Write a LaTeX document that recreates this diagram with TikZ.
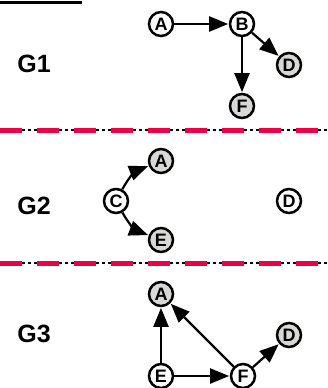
\documentclass[tikz,border=0pt]{standalone}
\usepackage{fontspec}
\setmainfont{Liberation Sans}
\usetikzlibrary{arrows.meta}
\definecolor{nodegray}{RGB}{216,216,212}
\definecolor{sepred}{RGB}{236,0,70}
\tikzset{
  vtx/.style={circle, draw=black, line width=2.5pt, minimum size=24pt, inner sep=0pt,
              font=\bfseries\fontsize{18}{18}\selectfont, fill=white},
  shaded/.style={vtx, fill=nodegray},
  edge/.style={line width=2.2pt, -{Triangle[length=19pt,width=15pt]}, shorten >=0.6pt},
  glabel/.style={font=\bfseries\fontsize{25}{25}\selectfont, inner sep=0pt},
  sepblack/.style={line width=1.6pt, black, dash pattern=on 28pt off 3pt on 3pt off 3pt, dash phase=0pt},
  sepredline/.style={line width=5pt, sepred, dash pattern=on 22pt off 15pt, dash phase=-3pt}
}
\begin{document}
\begin{tikzpicture}[x=1pt,y=-1pt]
\useasboundingbox (0,0) rectangle (327,388);
\fill[white] (0,0) rectangle (327,388);

% heading underline at the top edge
\coordinate (h1) at (0,2.5);
\coordinate (h2) at (82,2.5);
\draw[line width=2.4pt] (h1) -- (h2);

% section separators
\foreach \yy/\nm in {130/s1, 263/s2} {
  \coordinate (\nm a) at (-3,\yy);
  \coordinate (\nm b) at (330,\yy);
  \draw[sepblack] (\nm a) -- (\nm b);
  \draw[sepredline] (\nm a) -- (\nm b);
}

% ---- G1 ----
\node[glabel] (g1) at (34,64) {G1};
\node[vtx]    (a1) at (161,24) {A};
\node[vtx]    (b1) at (242,24) {B};
\node[shaded] (d1) at (289,65) {D};
\node[shaded] (f1) at (242,106) {F};
\draw[edge] (a1) -- (b1);
\draw[edge] (b1) -- (d1);
\draw[edge] (b1) -- (f1);

% ---- G2 ----
\node[glabel] (g2) at (34,206) {G2};
\node[vtx]    (c2) at (116,201) {C};
\node[shaded] (a2) at (161,161) {A};
\node[shaded] (e2) at (161,240) {E};
\node[vtx]    (d2) at (289,201) {D};
\draw[edge] (c2) to[bend left=20] (a2);
\draw[edge] (c2) to[bend right=20] (e2);

% ---- G3 ----
\node[glabel] (g3) at (34,334) {G3};
\node[shaded] (a3) at (161,294) {A};
\node[shaded] (d3) at (289,335) {D};
\node[vtx]    (e3) at (161,376) {E};
\node[vtx]    (f3) at (243,376) {F};
\draw[edge] (e3) -- (a3);
\draw[edge] (e3) -- (f3);
\draw[edge] (f3) -- (a3);
\draw[edge] (f3) -- (d3);
\end{tikzpicture}
\end{document}
